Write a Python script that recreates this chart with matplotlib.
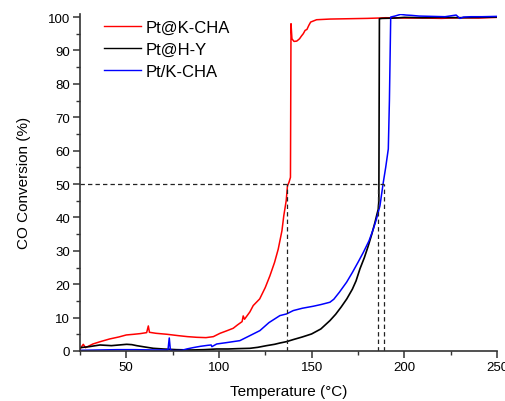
import matplotlib
matplotlib.use("Agg")
import matplotlib.pyplot as plt
from matplotlib.ticker import MultipleLocator

plt.rcParams['font.family'] = ['Liberation Sans', 'DejaVu Sans']

# ---- data ----
T_red = [25, 26.8, 28, 32, 36, 41, 46, 50, 54, 57.5, 61, 61.9, 62.5, 66, 72, 78, 83, 88, 93, 97,
         100.6, 104, 107.7, 110, 112.5, 113.1, 113.8, 116.7, 118.5, 122, 125, 127.5, 130, 132, 134,
         135, 136.3, 137, 137.8, 138.6, 138.9, 139.4, 140.5, 142, 143.5, 144.5, 145.5, 146.5, 147.5,
         148.5, 149.5, 152.7, 160, 170, 180, 186, 190, 200, 210, 220, 230, 240, 250]
y_red = [0.6, 2.0, 1.0, 2.1, 2.8, 3.6, 4.2, 4.8, 5.0, 5.2, 5.5, 7.5, 5.6, 5.3, 5.0, 4.6, 4.3, 4.1, 4.0, 4.3,
         5.3, 6.0, 6.8, 7.8, 8.8, 10.5, 9.5, 11.7, 13.6, 15.6, 19.0, 22.5, 26.5, 30.5, 36.0,
         40.5, 45.0, 49.5, 50.5, 52.0, 98.0, 93.5, 92.7, 92.8, 93.5, 94.3, 95.0, 96.0, 96.3,
         97.5, 98.5, 99.2, 99.4, 99.5, 99.6, 99.7, 99.8, 99.7, 99.7, 99.6, 99.8, 99.7, 99.9]

T_blk = [25, 30, 35.8, 42, 50.2, 53, 55.6, 60, 64.6, 70, 77, 85, 92, 98.7, 105, 110, 116.7, 121, 125.7,
         130, 133, 136.5, 140, 145, 150, 155, 159.9, 163, 166, 169, 172, 174, 176.1, 178.5, 180.6,
         182.5, 184.2, 185.3, 186, 186.3, 186.6, 188, 195, 200, 210, 220, 230, 240, 250]
y_blk = [1.0, 1.3, 1.8, 1.6, 2.0, 1.9, 1.6, 1.2, 0.8, 0.6, 0.4, 0.3, 0.4, 0.6, 0.6, 0.7, 0.8, 1.1, 1.6,
         2.0, 2.4, 2.8, 3.4, 4.2, 5.1, 6.6, 9.1, 11.0, 13.2, 15.6, 18.5, 21.0, 24.6, 28.0, 31.5,
         35.0, 38.5, 41.0, 42.5, 45.0, 99.5, 99.6, 99.7, 99.9, 99.8, 99.9, 99.8, 99.9, 100.0]

T_blu = [25, 35, 45, 55, 65, 72.5, 73.2, 73.8, 76, 80, 82.6, 86, 90, 94, 95.8, 96.2, 98.8, 104, 111.3,
         116, 122.1, 127, 132.9, 136.5, 140.1, 145, 150.9, 155, 159.9, 162, 165, 168.9, 172, 175,
         177.9, 181, 183.3, 185, 186.9, 188.7, 190, 191.4, 192.0, 192.7, 195, 198, 201, 204, 208,
         215, 222, 228, 230, 232, 236, 242, 250]
y_blu = [0.2, 0.3, 0.4, 0.4, 0.3, 0.3, 3.9, 0.3, 0.1, 0.2, 0.6, 1.0, 1.4, 1.7, 1.8, 1.3, 2.1, 2.5, 3.1,
         4.4, 6.1, 8.5, 10.6, 11.1, 12.1, 12.8, 13.4, 13.9, 14.6, 15.5, 17.6, 20.6, 23.5, 26.5,
         29.5, 33.0, 36.5, 39.5, 43.5, 50.5, 55.0, 60.5, 75.0, 100.0, 100.3, 100.8, 100.6, 100.5, 100.3,
         100.2, 100.1, 100.6, 99.6, 100.0, 100.1, 100.1, 100.2]

labels = ["Pt@K-CHA", "Pt@H-Y", "Pt/K-CHA"]
colors = ["#ff0000", "#000000", "#0000ff"]

# T50 guide lines
t50 = [136.9, 186.0, 189.1]
level = 50

fig = plt.figure(figsize=(5.06, 4.02), dpi=100)
ax = fig.add_axes([0.158, 0.1244, 0.824, 0.839])

ax.plot(T_red, y_red, color=colors[0], lw=1.1, label=labels[0])
ax.plot(T_blk, y_blk, color=colors[1], lw=1.2, label=labels[1])
ax.plot(T_blu, y_blu, color=colors[2], lw=1.1, label=labels[2])

dash = dict(color="#222222", lw=0.9, linestyle=(0, (3.5, 2.5)))
ax.plot([25, max(t50)], [level, level], **dash)
for t in t50:
    ax.plot([t, t], [0, level], **dash)

ax.set_xlim(25, 250)
ax.set_ylim(0, 101)
ax.xaxis.set_major_locator(MultipleLocator(50))
ax.xaxis.set_minor_locator(MultipleLocator(25))
ax.yaxis.set_major_locator(MultipleLocator(10))
ax.yaxis.set_minor_locator(MultipleLocator(5))

for s in ["top", "right"]:
    ax.spines[s].set_visible(False)
for s in ["left", "bottom"]:
    ax.spines[s].set_color("#333333")
    ax.spines[s].set_linewidth(1.2)

ax.tick_params(which="major", direction="out", length=5, width=1.1, color="#333333",
               labelsize=9.5, pad=2)
ax.tick_params(which="minor", direction="out", length=3, width=1.0, color="#333333")

ax.set_xlabel("Temperature (°C)", fontsize=11, labelpad=8)
ax.set_ylabel("CO Conversion (%)", fontsize=11, labelpad=12)

leg = ax.legend(loc="upper left", bbox_to_anchor=(0.022, 1.025), frameon=False, fontsize=12,
                handlelength=2.2, handletextpad=0.3, labelspacing=0.4)
for line in leg.get_lines():
    line.set_linewidth(1.0)

fig.savefig("out.png", dpi=100)
